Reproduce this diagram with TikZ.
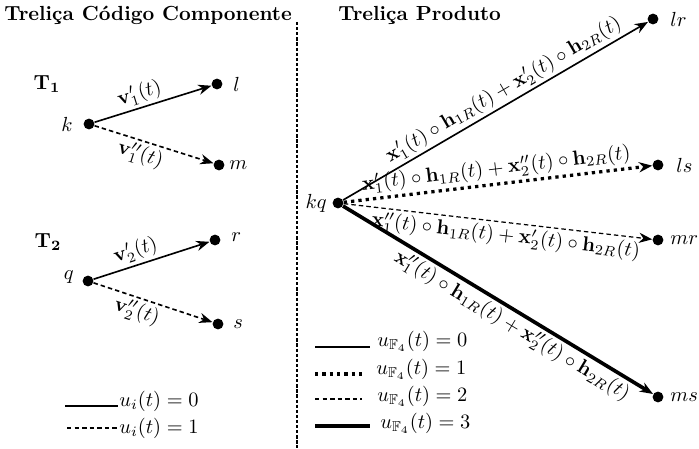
\documentclass[tikz,border=0pt]{standalone}
\usepackage{amsmath,amssymb}
\usetikzlibrary{arrows.meta,positioning}
\tikzset{
  >={Stealth[length=6.5pt,width=5pt]},
  vertex/.style={circle,fill=black,inner sep=0pt,minimum size=5.3pt},
  vname/.style={inner sep=0pt},
  title/.style={font=\bfseries,inner sep=0pt,anchor=west},
  elabel/.style={sloped,inner sep=1.5pt},
  legtext/.style={anchor=west,inner sep=0pt},
  fine dash/.style={dash pattern=on 2.2pt off 1.5pt},
  % component trellis
  czero/.style={->,thick},
  cone/.style={->,thick,fine dash},
  % product trellis
  pzero/.style={->,thick},
  pone/.style={->,ultra thick,dotted},
  ptwo/.style={->,semithick,fine dash},
  pthree/.style={->,line width=1.8pt},
  divider/.style={thick,dash pattern=on 1.6pt off 0.9pt},
}
\begin{document}
\begin{tikzpicture}[x=0.49pt,y=-0.49pt]
  \useasboundingbox (0,0) rectangle (699,448);

  % titles and divider
  \node[title] (tc) at (4,15) {Treliça Código Componente};
  \node[title] (tp) at (338,15) {Treliça Produto};
  \draw[divider] (297,22) -- (297,448);

  % T1
  \node (t1) at (47,84) {$\mathbf{T_1}$};
  \node[vertex] (k) at (89,124) {};
  \node[vertex] (l) at (217,84) {};
  \node[vertex] (m) at (219,165) {};
  \node[vname,left=5pt of k] (kt) {$k$};
  \node[vname,right=5pt of l] (lt) {$l$};
  \node[vname,right=2pt of m] (mt) {$m$};
  \draw[czero] (k) -- node[elabel,above,pos=.42] {$\mathbf{v}'_1(t)$} (l);
  \draw[cone] (k) -- node[elabel,below,pos=.42] {$\mathbf{v}''_1(t)$} (m);

  % T2
  \node (t2) at (48,242) {$\mathbf{T_2}$};
  \node[vertex] (q) at (88,281) {};
  \node[vertex] (r) at (215,240) {};
  \node[vertex] (s) at (218,324) {};
  \node[vname,left=4pt of q,yshift=2pt] (qt) {$q$};
  \node[vname,right=5pt of r,yshift=1.5pt] (rt) {$r$};
  \node[vname,right=4.5pt of s] (st) {$s$};
  \draw[czero] (q) -- node[elabel,above,pos=.4] {$\mathbf{v}'_2(t)$} (r);
  \draw[cone] (q) -- node[elabel,below,pos=.4] {$\mathbf{v}''_2(t)$} (s);

  % legend, component trellis
  \node[legtext] (li0) at (119,401) {$u_i(t)=0$};
  \node[legtext] (li1) at (119,428) {$u_i(t)=1$};
  \draw[thick] (65,406) -- (118,406);
  \draw[thick,fine dash] (67,428) -- (118,428);

  % product trellis
  \node[vertex] (kq) at (338,203) {};
  \node[vertex] (lr) at (653,19) {};
  \node[vertex] (ls) at (658,165) {};
  \node[vertex] (mr) at (658,240) {};
  \node[vertex] (ms) at (658,397) {};
  \node[vname,left=2.5pt of kq] (kqt) {$kq$};
  \node[vname,right=5.5pt of lr] (lrt) {$lr$};
  \node[vname,right=6pt of ls] (lst) {$ls$};
  \node[vname,right=3pt of mr] (mrt) {$mr$};
  \node[vname,right=3pt of ms] (mst) {$ms$};
  \draw[pzero] (kq) -- node[elabel,above,pos=.55]
    {$\mathbf{x}'_1(t)\circ\mathbf{h}_{1R}(t)+\mathbf{x}'_2(t)\circ\mathbf{h}_{2R}(t)$} (lr);
  \draw[pone] (kq) -- node[elabel,above,pos=.5]
    {$\mathbf{x}'_1(t)\circ\mathbf{h}_{1R}(t)+\mathbf{x}''_2(t)\circ\mathbf{h}_{2R}(t)$} (ls);
  \draw[ptwo] (kq) -- node[elabel,below,pos=.53]
    {$\mathbf{x}''_1(t)\circ\mathbf{h}_{1R}(t)+\mathbf{x}'_2(t)\circ\mathbf{h}_{2R}(t)$} (mr);
  \draw[pthree] (kq) -- node[elabel,below,pos=.57]
    {$\mathbf{x}''_1(t)\circ\mathbf{h}_{1R}(t)+\mathbf{x}''_2(t)\circ\mathbf{h}_{2R}(t)$} (ms);

  % legend, product trellis
  \node[legtext] (lp0) at (377,341) {$u_{\mathbb{F}_4}(t)=0$};
  \node[legtext] (lp1) at (376,369) {$u_{\mathbb{F}_4}(t)=1$};
  \node[legtext] (lp2) at (377,396) {$u_{\mathbb{F}_4}(t)=2$};
  \node[legtext] (lp3) at (380,423) {$u_{\mathbb{F}_4}(t)=3$};
  \draw[thick] (315,347) -- (370,347);
  \draw[ultra thick,dotted] (315,374) -- (362,374);
  \draw[semithick,fine dash] (315,399) -- (362,399);
  \draw[line width=1.8pt] (315,426) -- (370,426);
\end{tikzpicture}
\end{document}
